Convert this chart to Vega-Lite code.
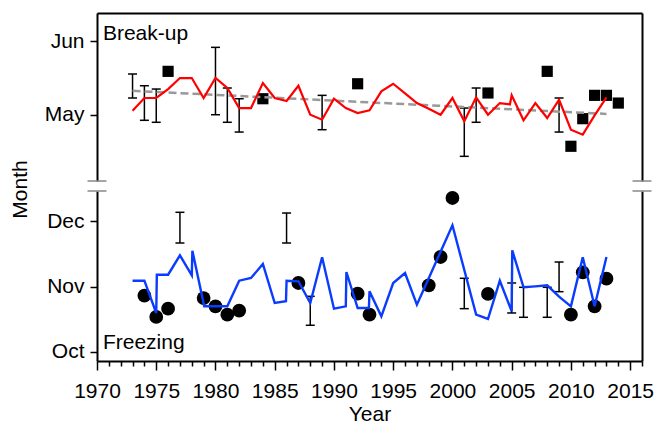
{
  "$schema": "https://vega.github.io/schema/vega-lite/v6.json",
  "padding": {"left": 9, "top": 13, "right": 2, "bottom": 0},
  "bounds": "flush",
  "spacing": 10,
  "config": {
    "font": "Liberation Sans",
    "view": {"stroke": null},
    "axis": {
      "labelFont": "Liberation Sans", "labelFontSize": 21, "labelColor": "black",
      "titleFont": "Liberation Sans", "titleFontSize": 21, "titleFontWeight": "normal", "titleColor": "black",
      "domainColor": "black", "domainWidth": 2, "tickColor": "black", "tickWidth": 1.5, "grid": false
    }
  },
  "datasets": {
    "one": [{}],
    "breakup_line": [
      {"year": 1973, "month": 5.055}, {"year": 1974, "month": 5.228}, {"year": 1975, "month": 5.228},
      {"year": 1976, "month": 5.35}, {"year": 1977, "month": 5.5}, {"year": 1978, "month": 5.5},
      {"year": 1979, "month": 5.228}, {"year": 1980, "month": 5.5}, {"year": 1981, "month": 5.364},
      {"year": 1982, "month": 5.091}, {"year": 1983, "month": 5.091}, {"year": 1984, "month": 5.432},
      {"year": 1985, "month": 5.228}, {"year": 1986, "month": 5.187}, {"year": 1987, "month": 5.395},
      {"year": 1988, "month": 5.0}, {"year": 1989, "month": 4.932}, {"year": 1990, "month": 5.218},
      {"year": 1991, "month": 5.091}, {"year": 1992, "month": 5.023}, {"year": 1993, "month": 5.06},
      {"year": 1994, "month": 5.319}, {"year": 1995, "month": 5.422}, {"year": 1996, "month": 5.292},
      {"year": 1997, "month": 5.159}, {"year": 1998, "month": 5.082}, {"year": 1999, "month": 5.0},
      {"year": 2000, "month": 5.228}, {"year": 2001, "month": 4.91}, {"year": 2002, "month": 5.237},
      {"year": 2003, "month": 5.0}, {"year": 2004, "month": 5.159}, {"year": 2004.85, "month": 5.14},
      {"year": 2005, "month": 5.264}, {"year": 2006, "month": 4.924}, {"year": 2007, "month": 5.159},
      {"year": 2008, "month": 4.955}, {"year": 2009, "month": 5.204}, {"year": 2010, "month": 4.796},
      {"year": 2011, "month": 4.728}, {"year": 2012, "month": 4.992}, {"year": 2013, "month": 5.237}
    ],
    "breakup_obs": [
      {"year": 1976, "month": 5.591}, {"year": 1984, "month": 5.218}, {"year": 1992, "month": 5.422},
      {"year": 2003, "month": 5.296}, {"year": 2008, "month": 5.591}, {"year": 2010, "month": 4.57},
      {"year": 2011, "month": 4.946}, {"year": 2012, "month": 5.264}, {"year": 2013, "month": 5.264},
      {"year": 2014, "month": 5.159}
    ],
    "breakup_err": [
      {"year": 1973, "lo": 5.228, "hi": 5.555}, {"year": 1974, "lo": 4.924, "hi": 5.395},
      {"year": 1975, "lo": 4.897, "hi": 5.35}, {"year": 1980, "lo": 5.0, "hi": 5.918},
      {"year": 1981, "lo": 4.897, "hi": 5.364}, {"year": 1982, "lo": 4.764, "hi": 5.218},
      {"year": 1989, "lo": 4.796, "hi": 5.264}, {"year": 2001, "lo": 4.433, "hi": 5.091},
      {"year": 2002, "lo": 4.897, "hi": 5.364}, {"year": 2009, "lo": 4.764, "hi": 5.228}
    ],
    "breakup_trend": [
      {"year": 1973, "month": 5.326}, {"year": 2013, "month": 5.011}
    ],
    "freeze_line": [
      {"year": 1973, "month": 11.091}, {"year": 1974, "month": 11.091}, {"year": 1975, "month": 10.597},
      {"year": 1975.05, "month": 11.183}, {"year": 1976, "month": 11.183}, {"year": 1977, "month": 11.48},
      {"year": 1978, "month": 11.174}, {"year": 1978.05, "month": 11.55}, {"year": 1979.05, "month": 10.699},
      {"year": 1980, "month": 10.699}, {"year": 1981, "month": 10.699}, {"year": 1982, "month": 11.091},
      {"year": 1983, "month": 11.132}, {"year": 1984, "month": 11.347}, {"year": 1985, "month": 10.75},
      {"year": 1985.95, "month": 10.776}, {"year": 1986, "month": 11.091}, {"year": 1987, "month": 11.082},
      {"year": 1988, "month": 10.75}, {"year": 1989, "month": 11.449}, {"year": 1990, "month": 10.663},
      {"year": 1991, "month": 10.699}, {"year": 1991.05, "month": 11.224}, {"year": 1992, "month": 10.673},
      {"year": 1992.95, "month": 10.673}, {"year": 1993, "month": 10.929}, {"year": 1994, "month": 10.546},
      {"year": 1995, "month": 11.056}, {"year": 1996, "month": 11.209}, {"year": 1997, "month": 10.724},
      {"year": 1998, "month": 11.128}, {"year": 1999, "month": 11.535}, {"year": 2000, "month": 11.939},
      {"year": 2002, "month": 10.571}, {"year": 2003, "month": 10.505}, {"year": 2004, "month": 11.091},
      {"year": 2005, "month": 10.623}, {"year": 2005.05, "month": 11.556}, {"year": 2006, "month": 10.99},
      {"year": 2007, "month": 11.005}, {"year": 2008, "month": 11.021}, {"year": 2009, "month": 10.846},
      {"year": 2010, "month": 10.699}, {"year": 2011, "month": 11.449}, {"year": 2012, "month": 10.699},
      {"year": 2013, "month": 11.454}
    ],
    "freeze_obs": [
      {"year": 1974, "month": 10.862}, {"year": 1975, "month": 10.536}, {"year": 1976, "month": 10.663},
      {"year": 1979, "month": 10.826}, {"year": 1980, "month": 10.699}, {"year": 1981, "month": 10.571},
      {"year": 1982, "month": 10.632}, {"year": 1987, "month": 11.056}, {"year": 1992, "month": 10.892},
      {"year": 1993, "month": 10.571}, {"year": 1998, "month": 11.021}, {"year": 1999, "month": 11.454},
      {"year": 2000, "month": 12.357}, {"year": 2003, "month": 10.888}, {"year": 2010, "month": 10.571},
      {"year": 2011, "month": 11.22}, {"year": 2012, "month": 10.699}, {"year": 2013, "month": 11.122}
    ],
    "freeze_err": [
      {"year": 1977, "lo": 11.668, "hi": 12.138}, {"year": 1986, "lo": 11.668, "hi": 12.127},
      {"year": 1988, "lo": 10.409, "hi": 10.852}, {"year": 2001, "lo": 10.663, "hi": 11.128},
      {"year": 2005, "lo": 10.597, "hi": 11.056}, {"year": 2006, "lo": 10.531, "hi": 10.99},
      {"year": 2008, "lo": 10.531, "hi": 10.99}, {"year": 2009, "lo": 10.923, "hi": 11.377}
    ]
  },
  "vconcat": [
    {
      "width": 545,
      "height": 168,
      "resolve": {"axis": {"x": "independent", "y": "independent"}},
      "layer": [
        {
          "data": {"name": "breakup_obs"},
          "mark": {"type": "square", "filled": true, "color": "black", "opacity": 1, "size": 125},
          "encoding": {
            "x": {"field": "year", "type": "quantitative", "scale": {"domain": [1970, 2016], "nice": false, "zero": false}, "axis": null},
            "y": {"field": "month", "type": "quantitative", "scale": {"domain": [4.097, 6.386], "nice": false, "zero": false}, "axis": null}
          }
        },
        {
          "data": {"name": "breakup_err"},
          "mark": {"type": "rule", "color": "black", "strokeWidth": 1.5},
          "encoding": {
            "x": {"field": "year", "type": "quantitative", "scale": {"domain": [1970, 2016], "nice": false, "zero": false}, "axis": null},
            "y": {"field": "lo", "type": "quantitative", "scale": {"domain": [4.097, 6.386], "nice": false, "zero": false}, "axis": null},
            "y2": {"field": "hi"}
          }
        },
        {
          "data": {"name": "breakup_err"},
          "mark": {"type": "tick", "orient": "horizontal", "color": "black", "size": 9, "thickness": 1.5, "opacity": 1},
          "encoding": {
            "x": {"field": "year", "type": "quantitative", "scale": {"domain": [1970, 2016], "nice": false, "zero": false}, "axis": null},
            "y": {"field": "lo", "type": "quantitative", "scale": {"domain": [4.097, 6.386], "nice": false, "zero": false}, "axis": null}
          }
        },
        {
          "data": {"name": "breakup_err"},
          "mark": {"type": "tick", "orient": "horizontal", "color": "black", "size": 9, "thickness": 1.5, "opacity": 1},
          "encoding": {
            "x": {"field": "year", "type": "quantitative", "scale": {"domain": [1970, 2016], "nice": false, "zero": false}, "axis": null},
            "y": {"field": "hi", "type": "quantitative", "scale": {"domain": [4.097, 6.386], "nice": false, "zero": false}, "axis": null}
          }
        },
        {
          "data": {"name": "breakup_trend"},
          "mark": {"type": "line", "color": "#999999", "strokeWidth": 2.5, "strokeDash": [8, 4]},
          "encoding": {
            "x": {"field": "year", "type": "quantitative", "scale": {"domain": [1970, 2016], "nice": false, "zero": false}, "axis": null},
            "y": {"field": "month", "type": "quantitative", "scale": {"domain": [4.097, 6.386], "nice": false, "zero": false},
                  "axis": {"orient": "right", "ticks": false, "labels": false, "title": null, "domain": true}}
          }
        },
        {
          "data": {"name": "breakup_line"},
          "mark": {"type": "line", "color": "#ff0000", "strokeWidth": 2.2},
          "encoding": {
            "x": {"field": "year", "type": "quantitative", "scale": {"domain": [1970, 2016], "nice": false, "zero": false},
                  "axis": {"orient": "top", "ticks": false, "labels": false, "title": null, "domain": true}},
            "y": {"field": "month", "type": "quantitative", "scale": {"domain": [4.097, 6.386], "nice": false, "zero": false},
                  "axis": {"orient": "left", "values": [5, 6], "labelExpr": "datum.value == 5 ? 'May' : 'Jun'",
                           "tickSize": 7, "labelPadding": 6, "title": "Month", "titleY": 176, "titlePadding": 14}}
          }
        },
        {
          "data": {"name": "one"},
          "mark": {"type": "text", "text": "Break-up", "align": "left", "baseline": "alphabetic", "fontSize": 21, "font": "Liberation Sans", "color": "black"},
          "encoding": {
            "x": {"datum": 1970.5, "type": "quantitative", "scale": {"domain": [1970, 2016], "nice": false, "zero": false}, "axis": null},
            "y": {"datum": 6.022, "type": "quantitative", "scale": {"domain": [4.097, 6.386], "nice": false, "zero": false}, "axis": null}
          }
        },
        {
          "data": {"name": "one"},
          "mark": {"type": "rule", "color": "#888888", "strokeWidth": 1.5},
          "encoding": {
            "x": {"datum": 1969.2, "type": "quantitative", "scale": {"domain": [1970, 2016], "nice": false, "zero": false}, "axis": null},
            "x2": {"datum": 1970.8},
            "y": {"datum": 4.097, "type": "quantitative", "scale": {"domain": [4.097, 6.386], "nice": false, "zero": false}, "axis": null}
          }
        },
        {
          "data": {"name": "one"},
          "mark": {"type": "rule", "color": "#888888", "strokeWidth": 1.5},
          "encoding": {
            "x": {"datum": 2015.2, "type": "quantitative", "scale": {"domain": [1970, 2016], "nice": false, "zero": false}, "axis": null},
            "x2": {"datum": 2016.8},
            "y": {"datum": 4.097, "type": "quantitative", "scale": {"domain": [4.097, 6.386], "nice": false, "zero": false}, "axis": null}
          }
        }
      ]
    },
    {
      "width": 545,
      "height": 170,
      "resolve": {"axis": {"x": "independent", "y": "independent"}},
      "layer": [
        {
          "data": {"name": "freeze_obs"},
          "mark": {"type": "circle", "color": "black", "opacity": 1, "size": 190},
          "encoding": {
            "x": {"field": "year", "type": "quantitative", "scale": {"domain": [1970, 2016], "nice": false, "zero": false}, "axis": null},
            "y": {"field": "month", "type": "quantitative", "scale": {"domain": [9.862, 12.464], "nice": false, "zero": false}, "axis": null}
          }
        },
        {
          "data": {"name": "freeze_err"},
          "mark": {"type": "rule", "color": "black", "strokeWidth": 1.5},
          "encoding": {
            "x": {"field": "year", "type": "quantitative", "scale": {"domain": [1970, 2016], "nice": false, "zero": false}, "axis": null},
            "y": {"field": "lo", "type": "quantitative", "scale": {"domain": [9.862, 12.464], "nice": false, "zero": false}, "axis": null},
            "y2": {"field": "hi"}
          }
        },
        {
          "data": {"name": "freeze_err"},
          "mark": {"type": "tick", "orient": "horizontal", "color": "black", "size": 9, "thickness": 1.5, "opacity": 1},
          "encoding": {
            "x": {"field": "year", "type": "quantitative", "scale": {"domain": [1970, 2016], "nice": false, "zero": false}, "axis": null},
            "y": {"field": "lo", "type": "quantitative", "scale": {"domain": [9.862, 12.464], "nice": false, "zero": false}, "axis": null}
          }
        },
        {
          "data": {"name": "freeze_err"},
          "mark": {"type": "tick", "orient": "horizontal", "color": "black", "size": 9, "thickness": 1.5, "opacity": 1},
          "encoding": {
            "x": {"field": "year", "type": "quantitative", "scale": {"domain": [1970, 2016], "nice": false, "zero": false}, "axis": null},
            "y": {"field": "hi", "type": "quantitative", "scale": {"domain": [9.862, 12.464], "nice": false, "zero": false}, "axis": null}
          }
        },
        {
          "data": {"name": "freeze_line"},
          "mark": {"type": "line", "color": "#0a3cff", "strokeWidth": 2.4},
          "encoding": {
            "x": {"field": "year", "type": "quantitative", "scale": {"domain": [1970, 2016], "nice": false, "zero": false},
                  "axis": {"orient": "bottom", "values": [1970,1971,1972,1973,1974,1975,1976,1977,1978,1979,1980,1981,1982,1983,1984,1985,1986,1987,1988,1989,1990,1991,1992,1993,1994,1995,1996,1997,1998,1999,2000,2001,2002,2003,2004,2005,2006,2007,2008,2009,2010,2011,2012,2013,2014,2015,2016],
                           "format": "d", "labelExpr": "datum.value % 5 === 0 ? datum.label : ''",
                           "tickSize": {"condition": {"test": "datum.value % 5 === 0", "value": 9}, "value": 5},
                           "labelPadding": 10, "labelOverlap": false, "labelFlush": false, "title": "Year", "titlePadding": 2}},
            "y": {"field": "month", "type": "quantitative", "scale": {"domain": [9.862, 12.464], "nice": false, "zero": false},
                  "axis": {"orient": "left", "values": [10, 11, 12], "labelExpr": "datum.value == 10 ? 'Oct' : datum.value == 11 ? 'Nov' : 'Dec'",
                           "tickSize": 7, "labelPadding": 6, "title": null}}
          }
        },
        {
          "data": {"name": "one"},
          "mark": {"type": "rule", "color": "black", "strokeWidth": 0},
          "encoding": {
            "x": {"datum": 2016, "type": "quantitative", "scale": {"domain": [1970, 2016], "nice": false, "zero": false}, "axis": null},
            "y": {"datum": 10, "type": "quantitative", "scale": {"domain": [9.862, 12.464], "nice": false, "zero": false},
                  "axis": {"orient": "right", "ticks": false, "labels": false, "title": null, "domain": true}}
          }
        },
        {
          "data": {"name": "one"},
          "mark": {"type": "text", "text": "Freezing", "align": "left", "baseline": "alphabetic", "fontSize": 21, "font": "Liberation Sans", "color": "black"},
          "encoding": {
            "x": {"datum": 1970.5, "type": "quantitative", "scale": {"domain": [1970, 2016], "nice": false, "zero": false}, "axis": null},
            "y": {"datum": 10.046, "type": "quantitative", "scale": {"domain": [9.862, 12.464], "nice": false, "zero": false}, "axis": null}
          }
        },
        {
          "data": {"name": "one"},
          "mark": {"type": "rule", "color": "#888888", "strokeWidth": 1.5},
          "encoding": {
            "x": {"datum": 1969.2, "type": "quantitative", "scale": {"domain": [1970, 2016], "nice": false, "zero": false}, "axis": null},
            "x2": {"datum": 1970.8},
            "y": {"datum": 12.464, "type": "quantitative", "scale": {"domain": [9.862, 12.464], "nice": false, "zero": false}, "axis": null}
          }
        },
        {
          "data": {"name": "one"},
          "mark": {"type": "rule", "color": "#888888", "strokeWidth": 1.5},
          "encoding": {
            "x": {"datum": 2015.2, "type": "quantitative", "scale": {"domain": [1970, 2016], "nice": false, "zero": false}, "axis": null},
            "x2": {"datum": 2016.8},
            "y": {"datum": 12.464, "type": "quantitative", "scale": {"domain": [9.862, 12.464], "nice": false, "zero": false}, "axis": null}
          }
        }
      ]
    }
  ]
}
